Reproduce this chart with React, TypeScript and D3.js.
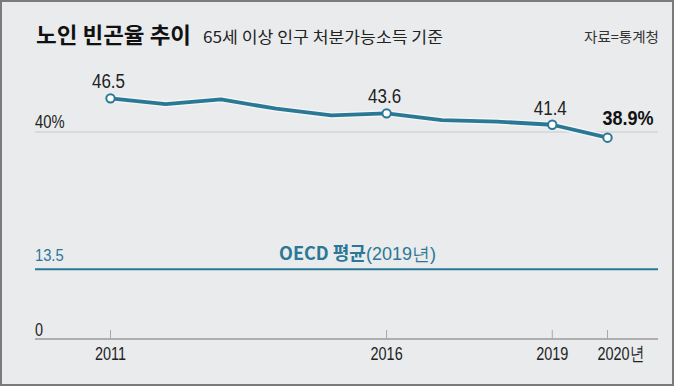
import React, { useEffect, useRef } from 'react';
import * as d3 from 'd3';

const years = [2011, 2012, 2013, 2014, 2015, 2016, 2017, 2018, 2019, 2020];
const rates = [46.5, 45.4, 46.3, 44.5, 43.2, 43.6, 42.3, 42.0, 41.4, 38.9];
const labelledYears = [2011, 2016, 2019];
const tickYears = [2011, 2016, 2019, 2020];
const oecdAverage = 13.5;
const gridValue = 40;

const W = 674;
const H = 386;
const TEAL = '#2a7896';
const NUM_FONT = "'Liberation Sans', Arial, sans-serif";
const KR_FONT = "'Noto Sans CJK KR', sans-serif";

// squeeze text horizontally to mimic the narrow newspaper face
function condense(sel: d3.Selection<any, any, any, any>, k: number) {
  sel.each(function () {
    const el = this as SVGTextElement;
    const len = el.getComputedTextLength();
    el.setAttribute('textLength', String(len * k));
    el.setAttribute('lengthAdjust', 'spacingAndGlyphs');
  });
}

export default function App() {
  const svgRef = useRef<SVGSVGElement>(null);

  useEffect(() => {
    document.body.style.margin = '0';
    const svg = d3.select(svgRef.current).html(null);

    const x = d3.scaleLinear().domain([2011, 2020]).range([110.5, 607.5]);
    const y = d3.scaleLinear().domain([0, 40]).range([339, 132]);
    const left = 35;
    const right = 658;

    svg.append('rect').attr('x', 1).attr('y', 1).attr('width', W - 2).attr('height', H - 2)
      .attr('fill', '#e9ebec').attr('stroke', '#7d7b79').attr('stroke-width', 2);

    // header
    svg.append('text').attr('x', 36).attr('y', 42.5)
      .attr('font-family', KR_FONT).attr('font-weight', 700).attr('font-size', 22)
      .attr('fill', '#111').attr('textLength', 155).attr('lengthAdjust', 'spacingAndGlyphs')
      .text('노인 빈곤율 추이');
    svg.append('text').attr('x', 203).attr('y', 42.5)
      .attr('font-family', KR_FONT).attr('font-size', 16)
      .attr('fill', '#222').attr('textLength', 240).attr('lengthAdjust', 'spacingAndGlyphs')
      .text('65세 이상 인구 처분가능소득 기준');
    svg.append('text').attr('x', 584).attr('y', 42)
      .attr('font-family', KR_FONT).attr('font-size', 14)
      .attr('fill', '#333').attr('textLength', 75).attr('lengthAdjust', 'spacingAndGlyphs')
      .text('자료=통계청');

    // 40% grid line
    svg.append('line').attr('x1', left).attr('x2', right)
      .attr('y1', y(gridValue)).attr('y2', y(gridValue))
      .attr('stroke', '#d3d5d6').attr('stroke-width', 1.5);
    svg.append('text').attr('x', left).attr('y', y(gridValue) - 4)
      .attr('font-family', NUM_FONT).attr('font-size', 18).attr('fill', '#222')
      .text(`${gridValue}%`)
      .call(condense, 0.82);

    // OECD average
    svg.append('line').attr('x1', left).attr('x2', right)
      .attr('y1', y(oecdAverage)).attr('y2', y(oecdAverage))
      .attr('stroke', TEAL).attr('stroke-width', 2);
    svg.append('text').attr('x', left).attr('y', y(oecdAverage) - 8.5)
      .attr('font-family', NUM_FONT).attr('font-size', 16).attr('fill', TEAL)
      .text(String(oecdAverage))
      .call(condense, 0.92);
    const oecd = svg.append('text').attr('x', 279).attr('y', y(oecdAverage) - 9.5)
      .attr('font-family', KR_FONT).attr('font-size', 18).attr('fill', TEAL)
      .attr('textLength', 157).attr('lengthAdjust', 'spacingAndGlyphs');
    oecd.append('tspan').attr('font-weight', 700).text('OECD 평균');
    oecd.append('tspan').attr('font-family', NUM_FONT).attr('font-size', 18).text('(2019년)');

    // baseline + ticks
    svg.append('line').attr('x1', left).attr('x2', right)
      .attr('y1', y(0)).attr('y2', y(0))
      .attr('stroke', '#9a9a9a').attr('stroke-width', 1.5);
    svg.append('text').attr('x', left).attr('y', y(0) - 3)
      .attr('font-family', NUM_FONT).attr('font-size', 18).attr('fill', '#222').text('0')
      .call(condense, 0.8);
    svg.selectAll('.tick').data(tickYears).join('line')
      .attr('class', 'tick')
      .attr('x1', (d) => x(d)).attr('x2', (d) => x(d))
      .attr('y1', y(0) - 9).attr('y2', y(0))
      .attr('stroke', '#a8a8a8').attr('stroke-width', 1);
    svg.selectAll('.tlabel').data(tickYears).join('text')
      .attr('class', 'tlabel')
      .attr('x', (d, i) => (i === tickYears.length - 1 ? x(d) - 10 : x(d)))
      .attr('y', 360)
      .attr('text-anchor', (d, i) => (i === tickYears.length - 1 ? 'start' : 'middle'))
      .attr('font-family', NUM_FONT).attr('font-size', 19).attr('fill', '#222')
      .text((d, i) => (i === tickYears.length - 1 ? `${d}년` : String(d)))
      .call(condense, 0.76);

    // series
    const pts = years.map((yr, i) => ({ yr, v: rates[i] }));
    const line = d3.line<{ yr: number; v: number }>().x((d) => x(d.yr)).y((d) => y(d.v));
    svg.append('path').datum(pts).attr('d', line)
      .attr('fill', 'none').attr('stroke', '#f4f6f7').attr('stroke-width', 6.5)
      .attr('stroke-linejoin', 'round');
    svg.append('path').datum(pts).attr('d', line)
      .attr('fill', 'none').attr('stroke', TEAL).attr('stroke-width', 3.8)
      .attr('stroke-linejoin', 'round');

    const marked = pts.filter((d) => labelledYears.includes(d.yr) || d.yr === 2020);
    svg.selectAll('.dot').data(marked).join('circle')
      .attr('class', 'dot')
      .attr('cx', (d) => x(d.yr)).attr('cy', (d) => y(d.v)).attr('r', 4.2)
      .attr('fill', '#fff').attr('stroke', TEAL).attr('stroke-width', 2);

    svg.selectAll('.vlabel').data(pts.filter((d) => labelledYears.includes(d.yr))).join('text')
      .attr('class', 'vlabel')
      .attr('x', (d) => x(d.yr) - 2).attr('y', (d) => y(d.v) - 10)
      .attr('text-anchor', 'middle')
      .attr('font-family', NUM_FONT).attr('font-size', 19.5).attr('fill', '#222')
      .text((d) => d.v.toFixed(1))
      .call(condense, 0.87);

    const last = pts[pts.length - 1];
    svg.append('text').attr('x', x(last.yr) - 5).attr('y', y(last.v) - 13)
      .attr('font-family', NUM_FONT).attr('font-weight', 700).attr('font-size', 20.5).attr('fill', '#111')
      .text(`${last.v.toFixed(1)}%`)
      .call(condense, 0.88);
  }, []);

  return <svg ref={svgRef} width={W} height={H} style={{ display: 'block' }} />;
}
